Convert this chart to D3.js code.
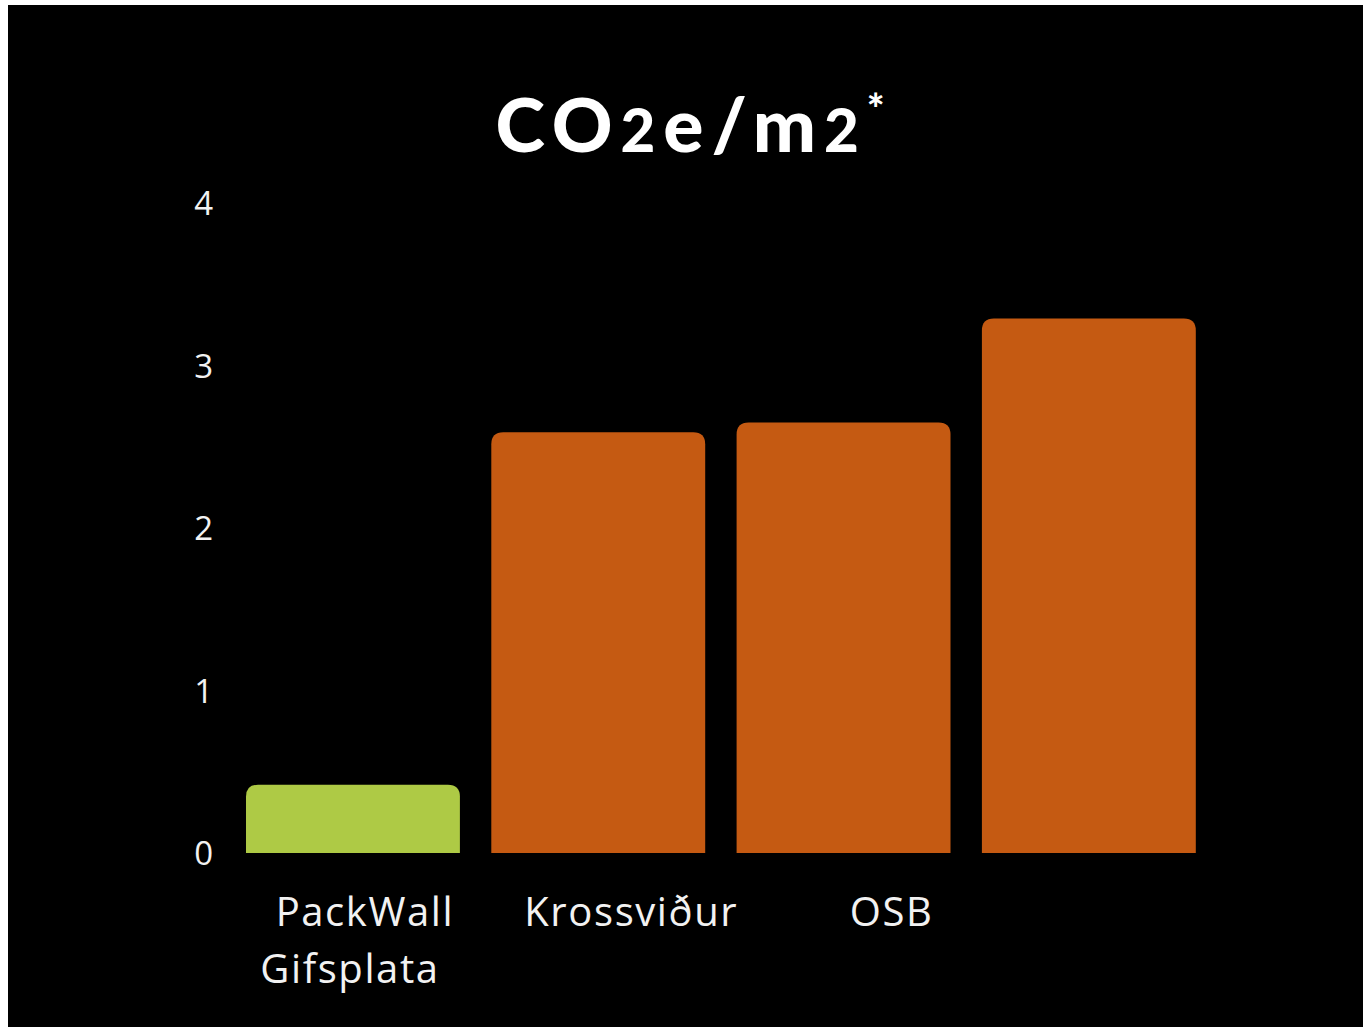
<!DOCTYPE html>
<html>
<head>
<meta charset="utf-8">
<script src="https://cdn.jsdelivr.net/npm/d3@7"></script>
<style>
  html, body { margin: 0; padding: 0; background: #ffffff; }
  svg { display: block; }
</style>
</head>
<body>
<svg id="chart" width="1363" height="1027"></svg>
<script>
// ---- data ----
const categories = ["PackWall\nGifsplata", "Krossviður", "OSB", ""];
const values = [0.42, 2.59, 2.65, 3.29];
const barColors = ["#AECA45", "#C55A12", "#C55A12", "#C55A12"];
const yTicks = [0, 1, 2, 3, 4];

// ---- layout constants ----
const W = 1363, H = 1027;
const svg = d3.select("#chart");
const labelFont = "'Open Sans', 'Lato', sans-serif";

svg.append("rect").attr("x", 8).attr("y", 5).attr("width", W - 8).attr("height", H - 5).attr("fill", "#000");

const x = d3.scaleBand().domain(categories).range([230.3, 1211.5]).paddingInner(0.128).paddingOuter(0.064);
const y = d3.scaleLinear().domain([0, 4]).range([853, 203]);

// title
const title = svg.append("text")
  .attr("x", 694).attr("y", 152)
  .attr("text-anchor", "middle")
  .attr("fill", "#fff")
  .style("font-family", "'Lato', 'Open Sans', sans-serif")
  .style("font-weight", "900")
  .style("font-size", "75px")
  .style("letter-spacing", "8px");
title.append("tspan").text("CO");
title.append("tspan").style("font-size", "60px").text("2");
title.append("tspan").text("e/m");
title.append("tspan").style("font-size", "60px").text("2");
title.append("tspan").attr("dy", -28).style("font-size", "42px").text("*");

// y axis
const yAxis = d3.axisLeft(y).tickValues(yTicks).tickSize(0).tickPadding(17).tickFormat(d3.format("d"));
const gy = svg.append("g").attr("transform", "translate(230,0)").call(yAxis);
gy.select(".domain").remove();
gy.selectAll("text")
  .attr("fill", "#f2f2f2")
  .attr("dy", "0.36em")
  .style("font-family", labelFont)
  .style("font-size", "33px");

// bars with rounded tops
const r = 12;
function barPath(x0, w, yTop, yBase) {
  const rr = Math.min(r, (yBase - yTop), w / 2);
  return `M${x0},${yBase} V${yTop + rr} Q${x0},${yTop} ${x0 + rr},${yTop} H${x0 + w - rr} Q${x0 + w},${yTop} ${x0 + w},${yTop + rr} V${yBase} Z`;
}
svg.append("g").selectAll("path")
  .data(categories.map((c, i) => ({ c, v: values[i], col: barColors[i] })))
  .join("path")
  .attr("d", d => barPath(x(d.c), x.bandwidth(), y(d.v), y(0)))
  .attr("fill", d => d.col);

// category labels (positioned off band centers)
const labelDx = [[12, -3], [33], [48], [0]];
const lineGap = 57;
const gl = svg.append("g");
categories.forEach((c, i) => {
  const lines = c.split("\n");
  lines.forEach((ln, j) => {
    if (!ln) return;
    gl.append("text")
      .attr("x", x(c) + x.bandwidth() / 2 + labelDx[i][j])
      .attr("y", 926 + j * lineGap)
      .attr("text-anchor", "middle")
      .attr("fill", "#f2f2f2")
      .style("font-family", labelFont)
      .style("font-size", "40px")
      .style("letter-spacing", "1.6px")
      .text(ln);
  });
});
</script>
</body>
</html>
